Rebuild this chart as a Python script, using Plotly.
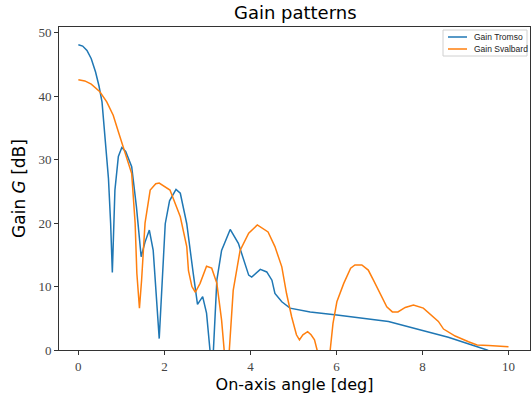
import plotly.graph_objects as go

# Gain Tromso (blue)
tromso_angle = [0.0, 0.10, 0.20, 0.30, 0.40, 0.48, 0.55, 0.62, 0.70, 0.75, 0.79, 0.85, 0.93, 1.01,
                1.10, 1.24, 1.35, 1.46, 1.55, 1.65, 1.74, 1.88, 2.02, 2.12, 2.27, 2.37, 2.52,
                2.67, 2.77, 2.89, 2.98, 3.06, 3.10, 3.14, 3.22, 3.33, 3.53, 3.72, 3.96, 4.03,
                4.23, 4.38, 4.50, 4.57, 4.73, 4.92, 5.39, 6.01, 6.55, 7.21, 7.98, 8.60, 9.15,
                9.50, 10.0]
tromso_gain = [48.1, 47.9, 47.2, 45.9, 43.8, 41.6, 39.1, 33.9, 27.0, 20.0, 12.2, 25.2, 30.5, 31.9,
               31.3, 28.9, 22.6, 14.7, 17.0, 18.9, 15.7, 1.8, 19.9, 23.5, 25.3, 24.7, 19.9,
               12.1, 7.2, 8.4, 5.8, 0.0, -10.0, 0.0, 11.0, 15.7, 19.0, 16.8, 11.8, 11.5,
               12.7, 12.3, 11.0, 8.9, 7.6, 6.6, 6.0, 5.5, 5.1, 4.5, 3.1, 2.0, 0.8,
               0.0, -1.5]

# Gain Svalbard (orange)
svalbard_angle = [0.0, 0.15, 0.30, 0.50, 0.66, 0.81, 0.93, 1.05, 1.16, 1.24, 1.32, 1.36, 1.42, 1.47,
                  1.55, 1.67, 1.80, 1.88, 2.13, 2.37, 2.52, 2.56, 2.64, 2.72, 2.83, 2.98, 3.10,
                  3.22, 3.33, 3.39, 3.45, 3.51, 3.60, 3.76, 3.96, 4.16, 4.41, 4.57, 4.73, 4.84,
                  4.96, 5.07, 5.14, 5.22, 5.33, 5.41, 5.49, 5.55, 5.70, 5.86, 5.92, 6.01, 6.17,
                  6.33, 6.43, 6.59, 6.74, 6.86, 7.02, 7.17, 7.30, 7.43, 7.60, 7.79, 8.02, 8.25,
                  8.37, 8.49, 8.76, 9.07, 9.27, 9.54, 10.0]
svalbard_gain = [42.6, 42.4, 41.9, 40.7, 39.1, 37.0, 34.4, 31.8, 29.2, 27.8, 20.0, 12.1, 6.6, 11.0,
                 20.0, 25.2, 26.2, 26.3, 25.2, 21.0, 16.3, 12.5, 10.0, 9.1, 10.5, 13.2, 12.9,
                 10.5, 4.7, 0.0, -10.0, 0.0, 9.4, 15.7, 18.4, 19.7, 18.6, 16.3, 13.1, 8.9,
                 5.2, 2.4, 1.6, 2.4, 2.9, 2.4, 1.6, 0.0, -10.0, 0.0, 4.2, 7.6, 10.5,
                 12.9, 13.4, 13.4, 12.6, 11.0, 8.9, 6.8, 6.0, 6.0, 6.7, 7.1, 6.6, 5.2,
                 4.5, 3.3, 2.2, 1.3, 0.8, 0.7, 0.5]

series_names = ["Gain Tromso", "Gain Svalbard"]
series_colors = ["#1f77b4", "#ff7f0e"]

x_ticks = [0, 2, 4, 6, 8, 10]
y_ticks = [0, 10, 20, 30, 40, 50]

fig = go.Figure()
for ang, gain, name, col in zip([tromso_angle, svalbard_angle], [tromso_gain, svalbard_gain],
                                series_names, series_colors):
    fig.add_trace(go.Scatter(x=ang, y=gain, mode="lines", name=name,
                             line=dict(color=col, width=1.5), showlegend=False))

# matplotlib-style legend box (top right, inside axes)
W, H = 471.0, 323.0  # plot area size in px
box_l, box_r, box_t, box_b = 443, 527, 30, 56
px = lambda v: (v - 59) / W
py = lambda v: (350 - v) / H
fig.add_shape(type="rect", xref="paper", yref="paper",
              x0=px(box_l), x1=px(box_r), y0=py(box_b), y1=py(box_t),
              line=dict(color="#d0d0d0", width=1), fillcolor="rgba(255,255,255,0.8)", layer="above")
for i, (name, col) in enumerate(zip(series_names, series_colors)):
    yy = 37 + 12 * i
    fig.add_shape(type="line", xref="paper", yref="paper",
                  x0=px(448), x1=px(467), y0=py(yy), y1=py(yy),
                  line=dict(color=col, width=1.5), layer="above")
    fig.add_annotation(xref="paper", yref="paper", x=px(472), y=py(yy), text=name,
                       showarrow=False, xanchor="left", yanchor="middle",
                       font=dict(family="Liberation Sans", size=8.5, color="#222222"))

axis_common = dict(showline=True, linecolor="#333333", linewidth=1, mirror=True,
                   ticks="outside", ticklen=4, tickcolor="#333333", showgrid=False,
                   zeroline=False, tickfont=dict(family="Liberation Serif", size=13, color="#444444"))

fig.update_layout(
    width=532, height=397,
    margin=dict(l=59, r=2, t=27, b=47),
    paper_bgcolor="white", plot_bgcolor="white",
    title=dict(text="Gain patterns", x=0.555, xanchor="center", y=0.985, yanchor="top",
               font=dict(family="DejaVu Sans", size=18, color="black")),
    xaxis=dict(range=[-0.45, 10.5], tickvals=x_ticks,
               title=dict(text="On-axis angle [deg]", standoff=6,
                          font=dict(family="DejaVu Sans", size=16, color="black")),
               **axis_common),
    yaxis=dict(range=[0, 50.9], tickvals=y_ticks,
               title=dict(text="Gain <i>G</i> [dB]", standoff=8,
                          font=dict(family="DejaVu Sans", size=17, color="black")),
               **axis_common),
    showlegend=False,
)

fig.write_html("out.html")
